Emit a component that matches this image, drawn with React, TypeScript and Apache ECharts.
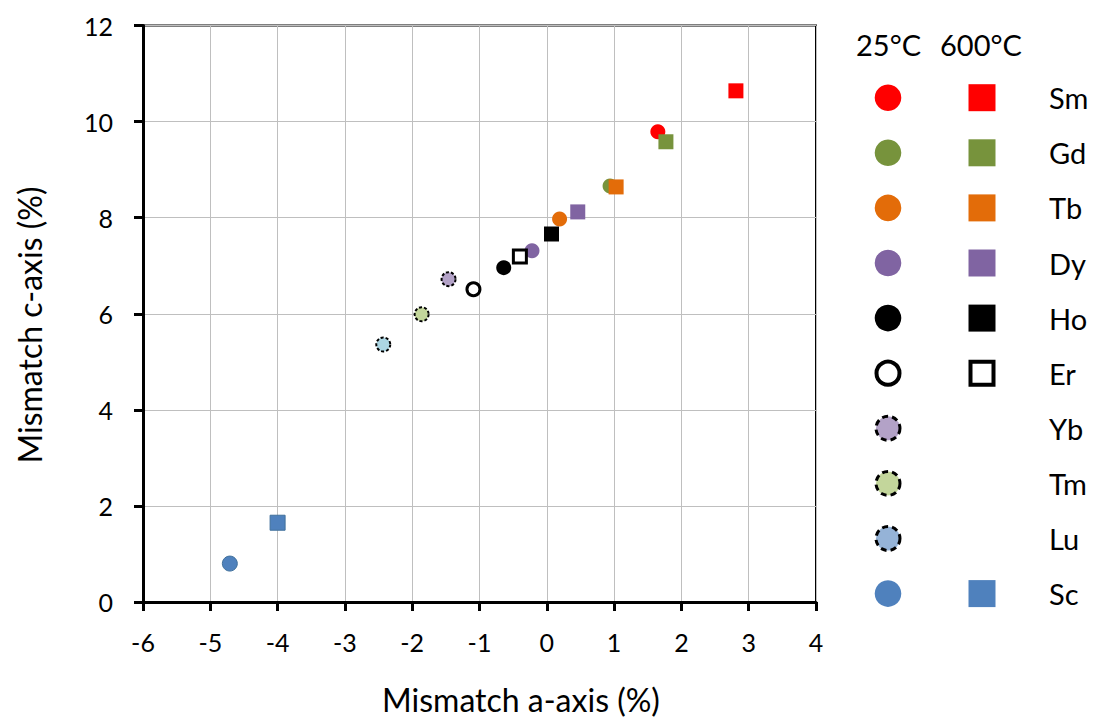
import React, { useEffect, useRef } from "react";
import * as echarts from "echarts";

const elements = ["Sm", "Gd", "Tb", "Dy", "Ho", "Er", "Yb", "Tm", "Lu", "Sc"];
const a25 = [1.65, 0.94, 0.19, -0.22, -0.64, -1.09, -1.46, -1.86, -2.43, -4.71];
const c25 = [9.79, 8.66, 7.97, 7.31, 6.96, 6.51, 6.72, 5.99, 5.36, 0.8];
const a600: (number | null)[] = [2.81, 1.77, 1.03, 0.46, 0.07, -0.4, null, null, null, -4.0];
const c600: (number | null)[] = [10.64, 9.58, 8.64, 8.12, 7.66, 7.19, null, null, null, 1.65];
const legendColors = ["#ff0000", "#77933c", "#e36c09", "#8064a2", "#000000", "#ffffff", "#b3a2c7", "#c3d69b", "#95b3d7", "#4f81bd"];
const chartColors = ["#ff0000", "#77933c", "#e36c09", "#8064a2", "#000000", "#ffffff", "#b3a2c7", "#c3d69b", "#acd6e3", "#4f81bd"];
const dashed = [false, false, false, false, false, false, true, true, true, false];
const hollow = [false, false, false, false, false, true, false, false, false, false];
const headers = ["25°C", "600°C"];
const xTitle = "Mismatch a-axis (%)";
const yTitle = "Mismatch c-axis (%)";

const FONT = "Lato";

export default function App() {
  const ref = useRef<HTMLDivElement>(null);
  useEffect(() => {
    if (!ref.current) return;
    const chart = echarts.init(ref.current, null, { renderer: "svg" });

    const itemStyleFor = (i: number) => {
      if (hollow[i]) return { color: "#ffffff", borderColor: "#000", borderWidth: 3, opacity: 1 };
      if (dashed[i]) return { color: chartColors[i], borderColor: "#000", borderWidth: 2, borderType: [3, 2] as any, opacity: 1 };
      if (i === 9) return { color: chartColors[i], borderColor: "#41719c", borderWidth: 1, opacity: 1 };
      return { color: chartColors[i], opacity: 1 };
    };

    const series: any[] = [];
    elements.forEach((el, i) => {
      series.push({
        name: el + " 25",
        type: "scatter",
        symbol: "circle",
        symbolSize: hollow[i] ? 13 : dashed[i] ? 14 : 15,
        data: [[a25[i], c25[i]]],
        itemStyle: itemStyleFor(i),
        z: 3,
      });
    });
    elements.forEach((el, i) => {
      if (a600[i] === null || c600[i] === null) return;
      series.push({
        name: el + " 600",
        type: "scatter",
        symbol: "rect",
        symbolSize: hollow[i] ? 13 : 15,
        data: [[a600[i], c600[i]]],
        itemStyle: itemStyleFor(i),
        z: 4,
      });
    });

    const graphics: any[] = [];
    const lx1 = 888;
    const lx2 = 982;
    const ltx = 1049;
    const ly0 = 97.7;
    const ldy = 55.1;
    graphics.push({
      type: "text", x: 856, y: 44,
      style: { text: headers[0], font: `29px ${FONT}`, fill: "#000", textVerticalAlign: "middle" },
    });
    graphics.push({
      type: "text", x: 940, y: 44,
      style: { text: headers[1], font: `29px ${FONT}`, fill: "#000", textVerticalAlign: "middle" },
    });
    elements.forEach((el, i) => {
      const y = ly0 + ldy * i;
      const circleStyle: any = hollow[i]
        ? { fill: "#fff", stroke: "#000", lineWidth: 4 }
        : dashed[i]
        ? { fill: legendColors[i], stroke: "#000", lineWidth: 3, lineDash: [6, 4] }
        : { fill: legendColors[i] };
      graphics.push({
        type: "circle",
        shape: { cx: lx1, cy: y, r: hollow[i] ? 11.5 : dashed[i] ? 12 : 13.3 },
        style: circleStyle,
      });
      if (a600[i] !== null) {
        const s = hollow[i] ? 23 : 27;
        graphics.push({
          type: "rect",
          shape: { x: lx2 - s / 2, y: y - s / 2, width: s, height: s },
          style: hollow[i] ? { fill: "#fff", stroke: "#000", lineWidth: 4 } : { fill: legendColors[i] },
        });
      }
      graphics.push({
        type: "text",
        x: ltx, y: y,
        style: { text: el, font: `29px ${FONT}`, fill: "#000", textVerticalAlign: "middle" },
      });
    });
    graphics.push({
      type: "text", x: 521, y: 699,
      style: { text: xTitle, font: `32px ${FONT}`, fill: "#000", textAlign: "center", textVerticalAlign: "middle" },
    });
    graphics.push({
      type: "text", x: 29, y: 325, rotation: Math.PI / 2,
      style: { text: yTitle, font: `32px ${FONT}`, fill: "#000", textAlign: "center", textVerticalAlign: "middle" },
    });

    chart.setOption({
      animation: false,
      grid: { left: 143, right: 290, top: 25.5, bottom: 118, show: true, borderColor: "#000", borderWidth: 2, backgroundColor: "transparent" },
      xAxis: {
        type: "value", min: -6, max: 4, interval: 1,
        axisLine: { show: true, onZero: false, lineStyle: { color: "#000", width: 3 } },
        axisTick: { show: true, length: 9, lineStyle: { color: "#000", width: 3 } },
        axisLabel: { margin: 27, color: "#000", fontSize: 25, fontFamily: FONT },
        splitLine: { show: true, lineStyle: { color: "#bfbfbf", width: 1 } },
      },
      yAxis: {
        type: "value", min: 0, max: 12, interval: 2,
        axisLine: { show: true, onZero: false, lineStyle: { color: "#000", width: 3 } },
        axisTick: { show: true, length: 9, lineStyle: { color: "#000", width: 3 } },
        axisLabel: { margin: 30, color: "#000", fontSize: 25, fontFamily: FONT },
        splitLine: { show: true, lineStyle: { color: "#bfbfbf", width: 1 } },
      },
      series,
      graphic: graphics,
    });
    return () => chart.dispose();
  }, []);
  return <div ref={ref} style={{ position: "fixed", left: 0, top: 0, width: 1106, height: 720, background: "#fff" }} />;
}
